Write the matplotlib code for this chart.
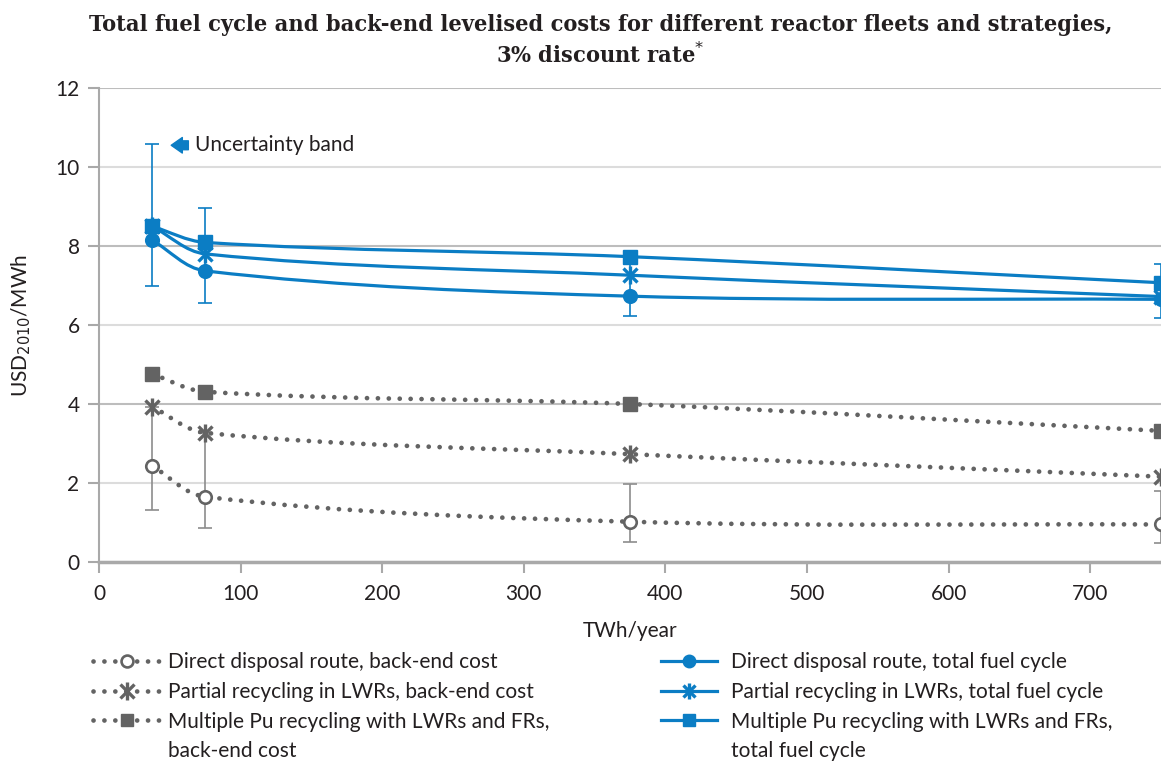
import numpy as np
import matplotlib.pyplot as plt
from matplotlib.path import Path
from matplotlib.patches import PathPatch
from matplotlib.lines import Line2D

# TWh/year for each fleet size
twh = [37.5, 75, 375, 750]

# back-end costs, USD2010/MWh
dd_back = [2.43, 1.65, 1.02, 0.95]
pr_back = [3.93, 3.27, 2.73, 2.16]
mp_back = [4.76, 4.31, 4.00, 3.32]

# total fuel cycle costs, USD2010/MWh
dd_total = [8.15, 7.37, 6.73, 6.65]
pr_total = [8.50, 7.80, 7.26, 6.72]
mp_total = [8.50, 8.09, 7.73, 7.07]

# uncertainty bands for the direct disposal route (low, high)
dd_back_lo = [1.31, 0.87, 0.50, 0.47]
dd_back_hi = [3.93, 3.27, 1.97, 1.80]
dd_total_lo = [7.00, 6.56, 6.22, 6.18]
dd_total_hi = [10.58, 8.95, 7.73, 7.54]

BLUE = '#0b7dc4'
GREY = '#636363'
AXC = '#a9a9a9'
TXT = '#231f20'
DOTS = (0, (0.01, 2.3))
FS = 15

plt.rcParams['font.family'] = ['Lato', 'DejaVu Sans']

fig = plt.figure(figsize=(11.61, 7.62), dpi=100)
ax = fig.add_axes([99 / 1161, 200 / 762, 1062 / 1161, 474 / 762])
ax.set_xlim(0, 750)
ax.set_ylim(0, 12)


def smooth(x, y):
    # smoothed line through the points, bezier handles in screen space
    p = ax.transData.transform(np.column_stack([x, y]))
    n = len(p)
    tang = []
    for i in range(n):
        d = p[min(i + 1, n - 1)] - p[max(i - 1, 0)]
        tang.append(d / np.hypot(*d))
    verts = [p[0]]
    codes = [Path.MOVETO]
    for i in range(n - 1):
        L = np.hypot(*(p[i + 1] - p[i])) / 3
        verts += [p[i] + tang[i] * L, p[i + 1] - tang[i + 1] * L, p[i + 1]]
        codes += [Path.CURVE4] * 3
    return Path(ax.transData.inverted().transform(np.array(verts)), codes)


# uncertainty bars
ax.errorbar(twh, dd_back, yerr=[np.subtract(dd_back, dd_back_lo), np.subtract(dd_back_hi, dd_back)],
            fmt='none', ecolor='#8c8c8c', elinewidth=1.2, capsize=5, capthick=1.2, zorder=2)
ax.errorbar(twh, dd_total, yerr=[np.subtract(dd_total, dd_total_lo), np.subtract(dd_total_hi, dd_total)],
            fmt='none', ecolor=BLUE, elinewidth=1.2, capsize=5, capthick=1.2, zorder=2)

back = [(dd_back, 'o', 'Direct disposal route, back-end cost'),
        (pr_back, '*', 'Partial recycling in LWRs, back-end cost'),
        (mp_back, 's', 'Multiple Pu recycling with LWRs and FRs,')]
total = [(dd_total, 'o', 'Direct disposal route, total fuel cycle'),
         (pr_total, '*', 'Partial recycling in LWRs, total fuel cycle'),
         (mp_total, 's', 'Multiple Pu recycling with LWRs and FRs,')]


def markers(target, x, y, kind, color, face, scale=1.0):
    # returns the artists so they can also be used as legend handles
    if kind == 'o':
        return [target(x, y, linestyle='none', marker='o', ms=9 * scale, mfc=face, mec=color, mew=1.9)]
    if kind == 's':
        return [target(x, y, linestyle='none', marker='s', ms=9.5 * scale, mfc=color, mec=color, mew=1)]
    a = target(x, y, linestyle='none', marker='x', ms=10 * scale, mec=color, mew=2.4)
    b = target(x, y, linestyle='none', marker='|', ms=13.5 * scale, mec=color, mew=2.4)
    return [a, b]


def legline(*args, **kw):
    return Line2D([], [], **kw)


h_back, l_back = [], []
for vals, mk, lab in back:
    ax.add_patch(PathPatch(smooth(twh, vals), fill=False, edgecolor=GREY, lw=3.4,
                           linestyle=DOTS, capstyle='round', zorder=3))
    for m in markers(ax.plot, twh, vals, mk, GREY, 'white'):
        m[0].set_zorder(4)
    line = Line2D([], [], color=GREY, lw=3.4, linestyle=DOTS, dash_capstyle='round')
    h_back.append(tuple([line] + markers(legline, [], [], mk, GREY, 'white', 0.95)))
    l_back.append(lab)
h_back.append(Line2D([], [], linestyle='none'))
l_back.append('back-end cost')

h_total, l_total = [], []
for vals, mk, lab in total:
    ax.add_patch(PathPatch(smooth(twh, vals), fill=False, edgecolor=BLUE, lw=2.3, zorder=3))
    for m in markers(ax.plot, twh, vals, mk, BLUE, BLUE):
        m[0].set_zorder(4)
    line = Line2D([], [], color=BLUE, lw=2.3)
    h_total.append(tuple([line] + markers(legline, [], [], mk, BLUE, BLUE, 0.9)))
    l_total.append(lab)
h_total.append(Line2D([], [], linestyle='none'))
l_total.append('total fuel cycle')

ax.set_xticks(range(0, 701, 100))
ax.set_yticks(range(0, 13, 2))
ax.tick_params(axis='both', colors=AXC, labelcolor=TXT, labelsize=FS, width=1.5)
ax.tick_params(axis='x', length=8, pad=8)
ax.tick_params(axis='y', length=8, pad=6)
for s in ['top', 'right']:
    ax.spines[s].set_visible(False)
ax.spines['left'].set_color(AXC)
ax.spines['left'].set_linewidth(1.5)
ax.spines['bottom'].set_color(AXC)
ax.spines['bottom'].set_linewidth(2.5)
ax.set_axisbelow(True)
ax.grid(axis='y', color='#bdbdbd', lw=1.5)
for i, gl in enumerate(ax.get_ygridlines()):
    if i % 2 == 1:
        gl.set_color('#dcdcdc')

ax.set_xlabel('TWh/year', fontsize=FS, color=TXT, labelpad=12)
ax.set_ylabel('USD$_{2010}$/MWh', fontsize=FS, color=TXT, labelpad=16)

ax.annotate('Uncertainty band', xy=(51, 10.55), xytext=(68, 10.55), fontsize=FS, color=TXT,
            va='center',
            arrowprops=dict(arrowstyle='simple,head_length=0.5,head_width=0.7,tail_width=0.4',
                            mutation_scale=16, color=BLUE, shrinkA=3, shrinkB=0))

fig.text(0.517, 1 - 14 / 762,
         'Total fuel cycle and back-end levelised costs for different reactor fleets and strategies,\n3% discount rate$^{*}$',
         ha='center', va='top', fontsize=16.8, fontweight='bold', family='DejaVu Serif',
         fontstretch='condensed', color=TXT, linespacing=1.35)

leg1 = fig.legend(h_back, l_back, loc='upper left', bbox_to_anchor=(93 / 1161, 1 - 652 / 762),
                  frameon=False, fontsize=FS, handlelength=3.3, handletextpad=0.3,
                  labelspacing=0.47, borderpad=0, borderaxespad=0)
leg2 = fig.legend(h_total, l_total, loc='upper left', bbox_to_anchor=(661 / 1161, 1 - 652 / 762),
                  frameon=False, fontsize=FS, handlelength=2.7, handletextpad=0.65,
                  labelspacing=0.47, borderpad=0, borderaxespad=0)
for lg in (leg1, leg2):
    for t in lg.get_texts():
        t.set_color(TXT)

plt.savefig('out.png', dpi=100)
